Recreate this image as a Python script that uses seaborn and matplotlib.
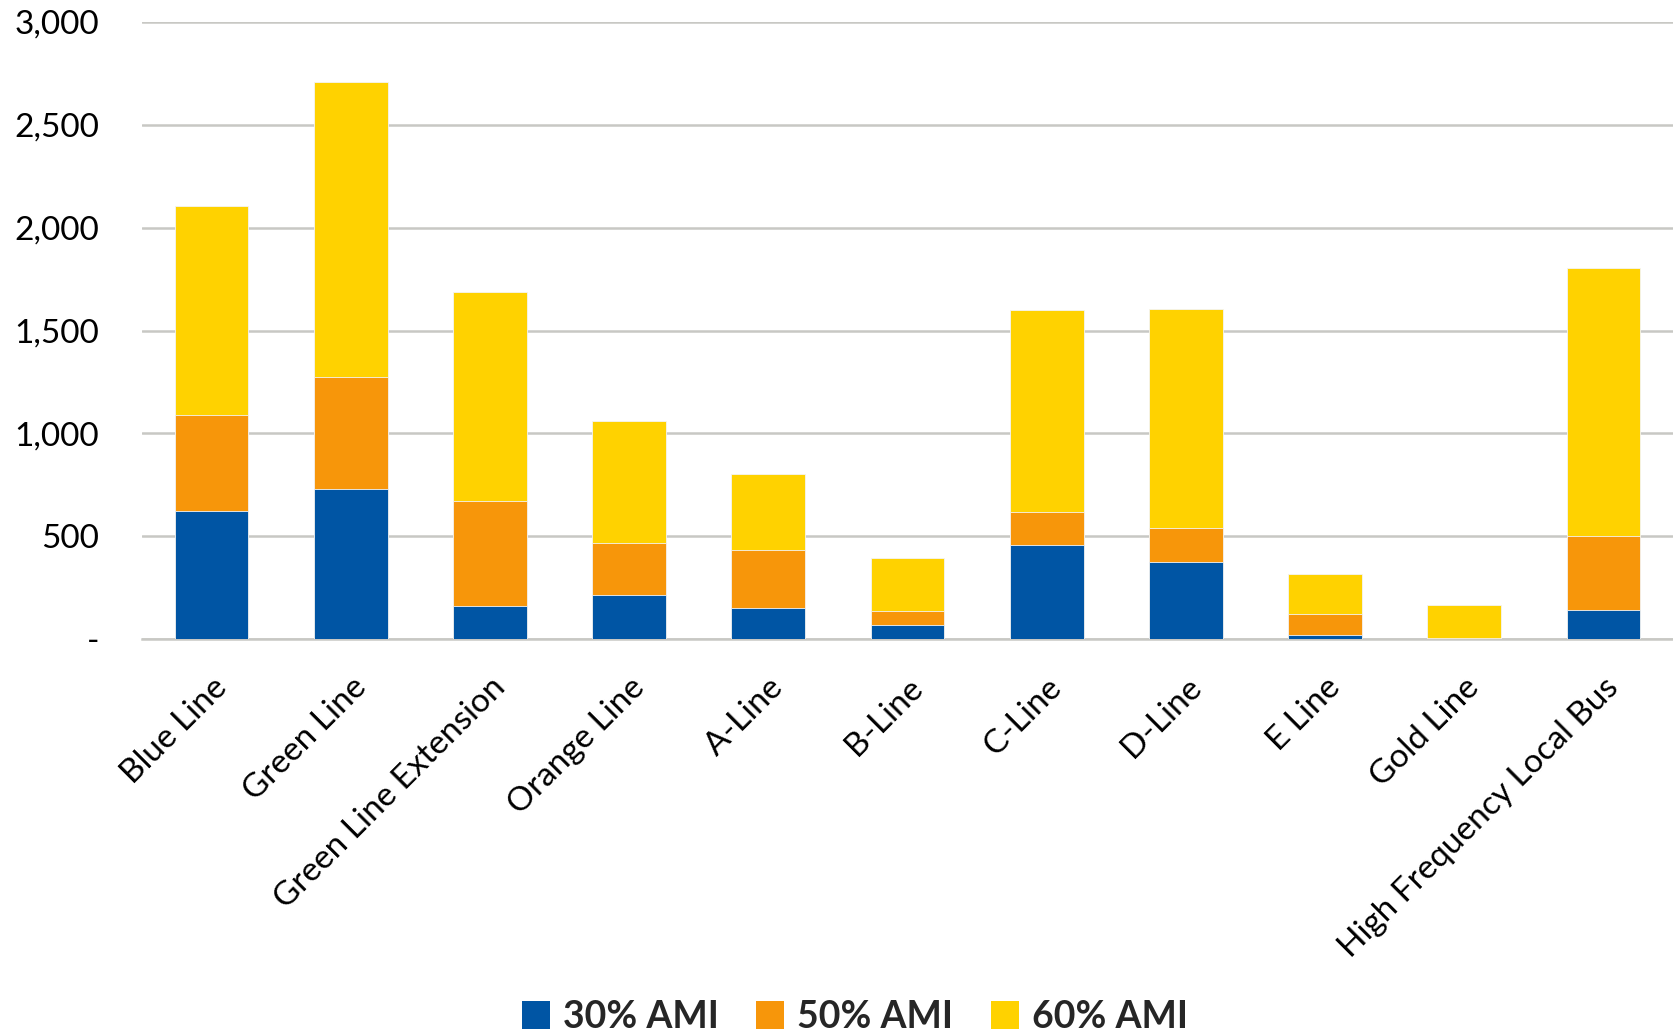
import matplotlib
matplotlib.use("Agg")
import matplotlib.pyplot as plt
import seaborn as sns
import numpy as np
import pandas as pd
from matplotlib.patches import Patch
from matplotlib.ticker import FuncFormatter

categories = ["Blue Line", "Green Line", "Green Line Extension", "Orange Line", "A-Line",
              "B-Line", "C-Line", "D-Line", "E Line", "Gold Line", "High Frequency Local Bus"]
ami30 = [620, 728, 160, 214, 151, 66, 459, 375, 21, 2, 139]
ami50 = [471, 544, 513, 251, 280, 69, 157, 163, 99, 3, 361]
ami60 = [1014, 1438, 1013, 595, 370, 260, 984, 1067, 196, 162, 1305]
series_names = ["30% AMI", "50% AMI", "60% AMI"]
colors = ["#0055A4", "#F7960A", "#FFD200"]
yticks = [0, 500, 1000, 1500, 2000, 2500, 3000]

sns.set_theme(style="white")
plt.rcParams['font.family'] = ['Lato', 'DejaVu Sans']

df = pd.DataFrame({"cat": categories, "s30": ami30, "s50": ami50, "s60": ami60})
df["c30"] = df["s30"]
df["c50"] = df["s30"] + df["s50"]
df["c60"] = df["c50"] + df["s60"]

fig = plt.figure(figsize=(16.73, 10.36), dpi=100)
ax = fig.add_axes([142/1673, 1 - 639/1036, (1673 - 142)/1673, (639 - 22)/1036])

for col, c in zip(["c60", "c50", "c30"], [colors[2], colors[1], colors[0]]):
    sns.barplot(data=df, x="cat", y=col, color=c, width=0.53, ax=ax,
                saturation=1, errorbar=None, zorder=3, linewidth=0.6, edgecolor="#f4f4f4")

ax.set_ylim(0, 3000)
ax.set_xlim(-0.5, len(categories) - 0.5)
ax.set_yticks(yticks)
ax.yaxis.set_major_formatter(FuncFormatter(lambda v, p: "-" if v == 0 else f"{int(v):,}"))
ax.grid(axis="y", color="#c8c8c4", linewidth=1.8, zorder=0)
ax.set_axisbelow(True)
for s in ["top", "right", "left"]:
    ax.spines[s].set_visible(False)
ax.spines["bottom"].set_color("#c8c8c4")
ax.spines["bottom"].set_linewidth(1.8)
ax.set_xlabel("")
ax.set_ylabel("")
ax.tick_params(axis="y", labelsize=24, length=0, pad=31, colors="black")
ax.tick_params(axis="x", labelsize=24, length=0, pad=24, colors="black")
ax.set_xticks(range(len(categories)))
ax.set_xticklabels(categories, rotation=45, ha="right", rotation_mode="anchor")

handles = [Patch(facecolor=c, edgecolor="none") for c in colors]
leg = fig.legend(handles, series_names, loc="center", bbox_to_anchor=(0.511, 1 - 1017/1036),
                 ncol=3, frameon=False, prop={"weight": "bold", "size": 27},
                 handlelength=0.75, handleheight=0.75, handletextpad=0.35, columnspacing=1.0)

fig.savefig("out.png", dpi=100)
